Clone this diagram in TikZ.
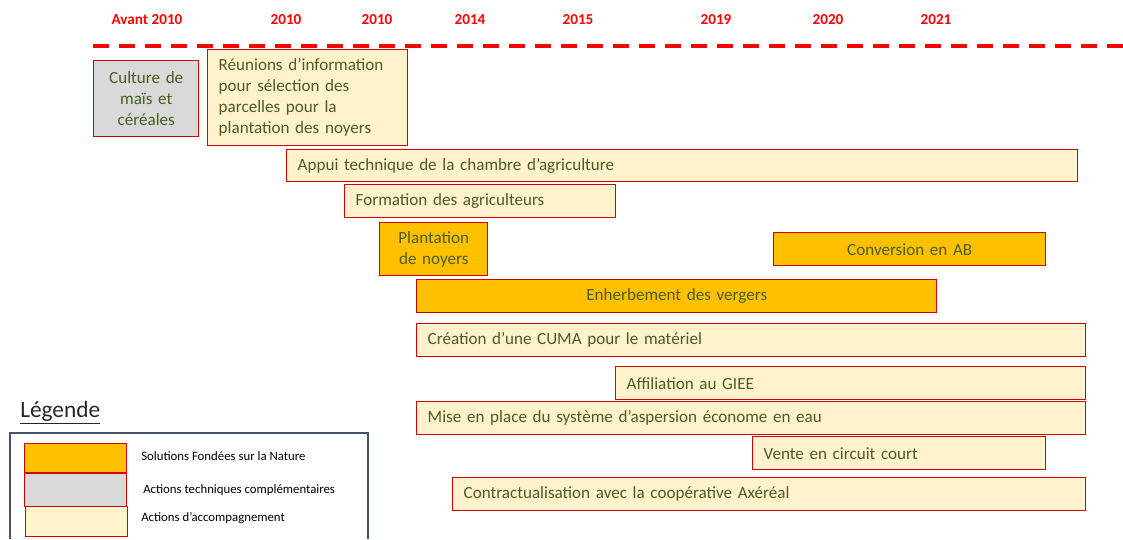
\documentclass[tikz,border=0pt]{standalone}
\usepackage{fontspec}
\setmainfont{Carlito}
\definecolor{sfnorange}{HTML}{FFC000}
\definecolor{techgray}{HTML}{D9D9D9}
\definecolor{accompbeige}{HTML}{FFF2CC}
\definecolor{barred}{HTML}{D40000}
\definecolor{bartext}{HTML}{4A5E22}
\definecolor{legendframe}{HTML}{44546A}

\begin{document}
\begin{tikzpicture}[x=0.75pt, y=-0.75pt,
		bar/.style={draw=barred, line width=1.1pt, anchor=north west, inner xsep=8.25pt, inner ysep=0pt, text=bartext, font=\fontsize{12.8}{15.75}\selectfont},
		sfn/.style={bar, fill=sfnorange},
		tech/.style={bar, fill=techgray},
		accomp/.style={bar, fill=accompbeige},
		size/.style 2 args={text width=#1*0.75pt-16.5pt, minimum height=#2*0.75pt},
		year/.style={text=red, font=\bfseries\fontsize{11.4}{13}\selectfont},
		swatch/.style={draw=barred, line width=0.9pt, anchor=north west, minimum width=76.5pt, inner sep=0pt},
		legtext/.style={anchor=west, inner sep=0pt, font=\fontsize{9.6}{11}\selectfont}]
		\useasboundingbox (0,0) rectangle (1123,539);

		% time axis
		\path (147,20) node[year] (avant) {Avant 2010}
		(286,20) node[year] (y2010a) {2010}
		(377,20) node[year] (y2010b) {2010}
		(470,20) node[year] (y2014) {2014}
		(578,20) node[year] (y2015) {2015}
		(716,20) node[year] (y2019) {2019}
		(828,20) node[year] (y2020) {2020}
		(936,20) node[year] (y2021) {2021};
		\coordinate (axisstart) at (93,46);
		\coordinate (axisend) at (1123,46);
		\draw[red, line width=3pt, dash pattern=on 12pt off 7.5pt] (axisstart) -- (axisend);

		% actions
		\path (93,60) node[tech, size={105}{76}, align=center] (mais) {Culture de\\maïs et\\céréales}
		(207,49) node[accomp, size={200}{96}, align=left] (reunions) {Réunions d’information\\pour sélection des\\parcelles pour la\\plantation des noyers}
		(286,149) node[accomp, size={791}{32}, align=left] (appui) {Appui technique de la chambre d’agriculture}
		(344,184) node[accomp, size={271}{33}, align=left] (formation) {Formation des agriculteurs}
		(379,222) node[sfn, size={108}{53}, align=center] (plantation) {Plantation\\de noyers}
		(773,232) node[sfn, size={272}{33}, align=center] (conversion) {Conversion en AB}
		(416,279) node[sfn, size={520}{33}, align=center] (enherbement) {Enherbement des vergers}
		(416,323) node[accomp, size={669}{33}, align=left] (cuma) {Création d’une CUMA pour le matériel}
		(615,366) node[accomp, size={470}{33}, align=left] (giee) {Affiliation au GIEE}
		(416,401) node[accomp, size={669}{33}, align=left] (aspersion) {Mise en place du système d’aspersion économe en eau}
		(752,436) node[accomp, size={293}{33}, align=left] (vente) {Vente en circuit court}
		(452,477) node[accomp, size={633}{33}, align=left] (axereal) {Contractualisation avec la coopérative Axéréal};

		% legend
		\node[anchor=west, inner sep=0pt, text=black!85, font=\fontsize{17.5}{20}\selectfont] (legende) at (20,413) {\underline{Légende}};
		\draw[legendframe, line width=0.8pt] (10,539) |- (368,433) -- (368,539);
		\path (24,443) node[swatch, fill=sfnorange, minimum height=21.75pt] (swsfn) {}
		(24,473) node[swatch, fill=techgray, minimum height=24.75pt] (swtech) {}
		(25,506) node[swatch, fill=accompbeige, minimum height=22.5pt] (swaccomp) {};
		\path (141,456) node[legtext] (lsfn) {Solutions Fondées sur la Nature}
		(143,490) node[legtext] (ltech) {Actions techniques complémentaires}
		(141,518) node[legtext] (laccomp) {Actions d’accompagnement};
	\end{tikzpicture}
\end{document}
